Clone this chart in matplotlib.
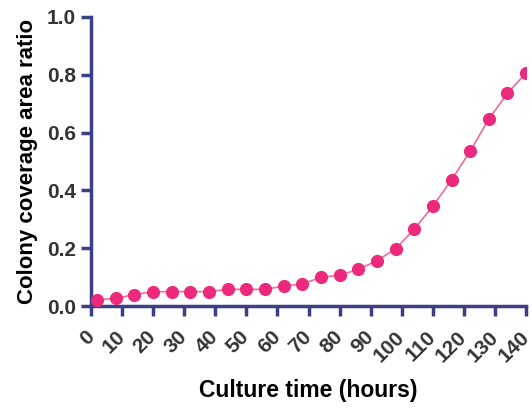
import matplotlib
matplotlib.use("Agg")
import matplotlib.pyplot as plt

hours = [2, 8, 14, 20, 26, 32, 38, 44, 50, 56, 62, 68, 74, 80, 86, 92, 98,
         104, 110, 116, 122, 128, 134, 140]
ratio = [0.021, 0.027, 0.040, 0.050, 0.050, 0.050, 0.050, 0.058, 0.058, 0.058,
         0.069, 0.077, 0.099, 0.107, 0.127, 0.157, 0.198, 0.266, 0.346, 0.436,
         0.536, 0.647, 0.736, 0.807]
xticks = list(range(0, 141, 10))
yticks = [0.0, 0.2, 0.4, 0.6, 0.8, 1.0]

axis_color = "#3c3f86"
pink = "#ec2a7c"

plt.rcParams['font.family'] = ['Liberation Sans', 'DejaVu Sans']

fig = plt.figure(figsize=(5.32, 4.12), dpi=100)
ax = fig.add_axes([0.171, 0.257, 0.818, 0.702])

ax.plot(hours, ratio, color="#f06aa0", lw=1.2, zorder=2)
ax.plot(hours, ratio, ls="none", marker="o", ms=9.5, color=pink,
        markeredgewidth=0, zorder=3)

ax.set_xlim(0, 140)
ax.set_ylim(0, 1.0)
ax.set_xticks(xticks)
ax.set_yticks(yticks)
ax.set_xticklabels([str(t) for t in xticks], rotation=45, ha="right",
                   va="center", rotation_mode="anchor")
ax.set_yticklabels([f"{t:.1f}" for t in yticks])

for s in ["top", "right"]:
    ax.spines[s].set_visible(False)
for s in ["left", "bottom"]:
    ax.spines[s].set_color(axis_color)
    ax.spines[s].set_linewidth(2.5)

ax.tick_params(axis="both", colors=axis_color, width=2.5, length=7,
               direction="out", labelsize=15, labelcolor="#333333")
ax.tick_params(axis="x", pad=13)
ax.tick_params(axis="y", pad=4)
for lbl in ax.get_xticklabels() + ax.get_yticklabels():
    lbl.set_fontweight("bold")

ax.set_xlabel("Culture time (hours)", fontsize=16.5, fontweight="bold",
              color="black", labelpad=10)
ax.set_ylabel("Colony coverage area ratio", fontsize=16, fontweight="bold",
              color="black", labelpad=6)
ax.patch.set_visible(False)
for s in ax.spines.values():
    s.set_clip_on(False)

fig.savefig("out.png", dpi=100)
